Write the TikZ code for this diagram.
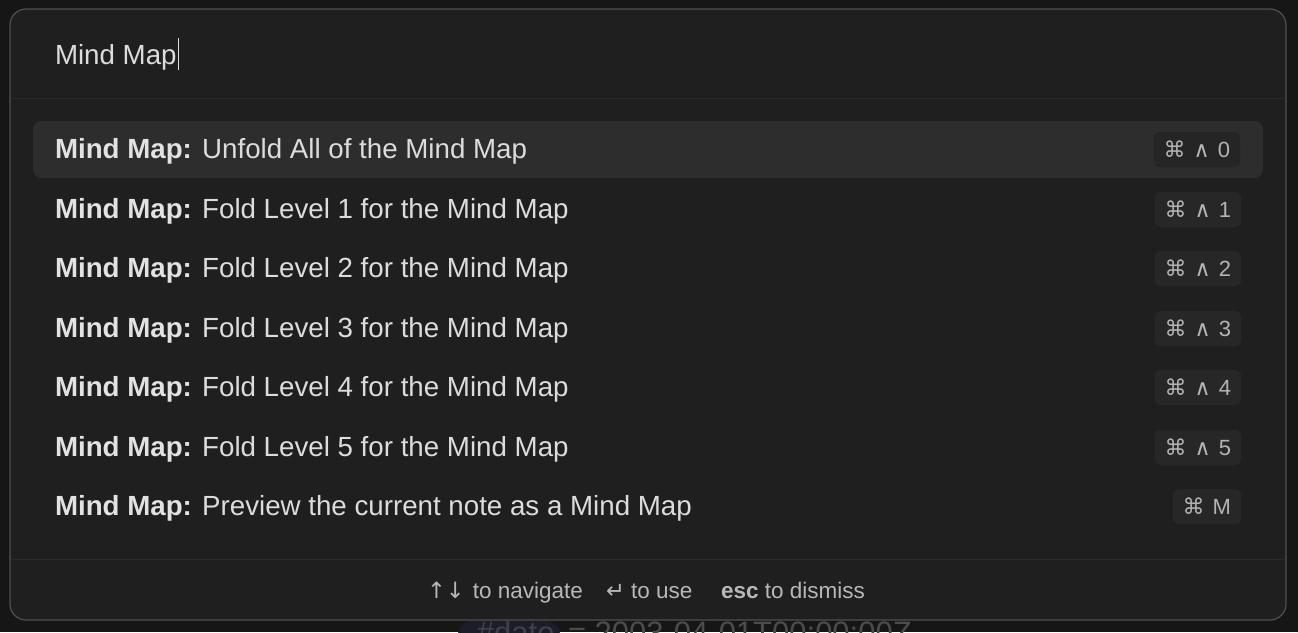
\documentclass[tikz,border=0pt]{standalone}
\usepackage{fontspec}
\setmainfont{Liberation Sans}
\newfontfamily\symfont{DejaVu Sans}
\definecolor{outerbg}{HTML}{161616}
\definecolor{panelbg}{HTML}{1F1F1F}
\definecolor{panelborder}{HTML}{505050}
\definecolor{sepcol}{HTML}{2A2A2A}
\definecolor{hlbg}{HTML}{2D2D2D}
\definecolor{keybg}{HTML}{272727}
\definecolor{keyhlbg}{HTML}{252525}
\definecolor{maintext}{HTML}{DCDCDC}
\definecolor{boldtext}{HTML}{E2E2E2}
\definecolor{keytext}{HTML}{B4B4B4}
\definecolor{foottext}{HTML}{B8B8B8}
\definecolor{pillbg}{HTML}{1D1D29}
\definecolor{pilltext}{HTML}{404048}
\definecolor{bgtext}{HTML}{4C4C4C}
\tikzset{
  rowtext/.style={anchor=base west, text=maintext, font=\fontsize{27.7}{33}\selectfont},
  keybadge/.style={anchor=east, fill=keybg, text=keytext, rounded corners=6pt,
    minimum height=35pt, inner xsep=10pt, inner ysep=0pt, font=\fontsize{22}{26}\selectfont},
  foot/.style={anchor=base west, text=foottext, font=\fontsize{22.5}{27}\selectfont},
}
\newcommand{\cmdkey}{{\symfont ⌘}}
\newcommand{\ctlkey}{{\symfont ∧}}
\newcommand{\kgap}{\hspace{8pt}}
\newcommand{\mm}{{\bfseries\color{boldtext}Mind Map:}}
\begin{document}
\begin{tikzpicture}[x=1pt,y=-1pt, every node/.style={inner sep=0pt, outer sep=0pt}]
\useasboundingbox (0,0) rectangle (1298,632);
\fill[outerbg] (0,0) rectangle (1298,632);
% background content partly hidden under the palette
\fill[pillbg, rounded corners=14pt] (458,621) rectangle (560,665);
\node[anchor=base west, text=pilltext, font=\fontsize{31}{37}\selectfont] (tag) at (477,643) {\#date};
\node[anchor=base west, text=bgtext, font=\fontsize{31}{37}\selectfont] (val) at (568,643) {= 2003-04-01T00:00:00Z};
% palette
\draw[panelborder, fill=panelbg, rounded corners=16pt, line width=1.2pt] (10,9) rectangle (1286,620);
\coordinate (s1a) at (11,98); \coordinate (s1b) at (1285,98);
\coordinate (s2a) at (11,559); \coordinate (s2b) at (1285,559);
\draw[sepcol, line width=1pt] (s1a) -- (s1b);
\draw[sepcol, line width=1pt] (s2a) -- (s2b);
% search field
\node[anchor=base west, text=maintext, font=\fontsize{27.7}{33}\selectfont] (search) at (55,64) {Mind Map};
\coordinate (caretTop) at ([xshift=2pt]search.east |- 0,38);
\coordinate (caretBot) at ([xshift=2pt]search.east |- 0,70);
\draw[maintext, line width=1.2pt] (caretTop) -- (caretBot);
% highlighted row
\fill[hlbg, rounded corners=8pt] (33,121) rectangle (1263,178);
% rows
\node[rowtext] (row1) at (55,158.5) {\mm{} Unfold All of the Mind Map};
\node[rowtext] (row2) at (55,218) {\mm{} Fold Level 1 for the Mind Map};
\node[rowtext] (row3) at (55,277.5) {\mm{} Fold Level 2 for the Mind Map};
\node[rowtext] (row4) at (55,337) {\mm{} Fold Level 3 for the Mind Map};
\node[rowtext] (row5) at (55,396.5) {\mm{} Fold Level 4 for the Mind Map};
\node[rowtext] (row6) at (55,456) {\mm{} Fold Level 5 for the Mind Map};
\node[rowtext] (row7) at (55,515.5) {\mm{} Preview the current note as a Mind Map};
% key badges
\node[keybadge, fill=keyhlbg] (key1) at (1240,149.5) {\cmdkey\kgap\ctlkey\kgap 0};
\node[keybadge] (key2) at (1241,209.5) {\cmdkey\kgap\ctlkey\kgap 1};
\node[keybadge] (key3) at (1241,268.5) {\cmdkey\kgap\ctlkey\kgap 2};
\node[keybadge] (key4) at (1241,328.5) {\cmdkey\kgap\ctlkey\kgap 3};
\node[keybadge] (key5) at (1241,387.5) {\cmdkey\kgap\ctlkey\kgap 4};
\node[keybadge] (key6) at (1241,447.5) {\cmdkey\kgap\ctlkey\kgap 5};
\node[keybadge] (key7) at (1241,506.5) {\cmdkey\kgap M};
% footer
\node[foot] (nav) at (427,598) {{\symfont ↑↓}\hspace{2pt} to navigate};
\node[foot] (use) at (606,598) {{\symfont ↵} to use};
\node[foot] (esc) at (721,598) {\textbf{esc} to dismiss};
\end{tikzpicture}
\end{document}
